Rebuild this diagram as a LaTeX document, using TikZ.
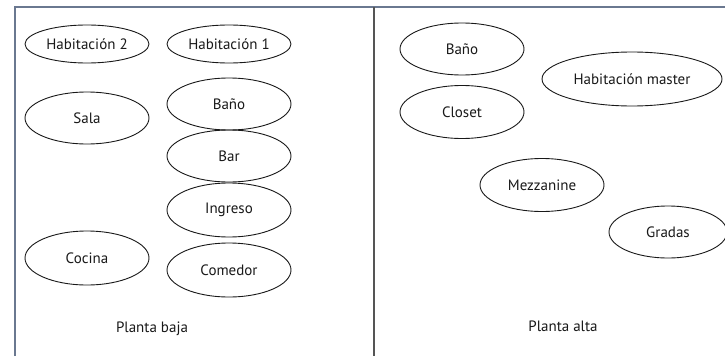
\documentclass[tikz,border=0pt]{standalone}
\usepackage{fontspec}
\setmainfont{PT Sans}
\usetikzlibrary{shapes.geometric}
\definecolor{framecol}{HTML}{6A7890}
\definecolor{divcol}{HTML}{555555}
\begin{document}
\begin{tikzpicture}[x=1pt,y=-1pt,
  room/.style={draw=black!90,line width=0.9pt,ellipse,inner sep=0pt,font=\fontsize{15}{17}\selectfont,text=black!90},
  caption/.style={font=\fontsize{15}{17}\selectfont,text=black!90}]
\useasboundingbox (0,0) rectangle (725,356);
\fill[white] (0,0) rectangle (725,356);
% frame
\draw[framecol,line width=1.5pt] (15,356) -- (15,7) -- (725,7);
\draw[divcol,line width=1.3pt] (374,7) -- (374,356);
% Planta baja
\node[room,minimum width=124pt,minimum height=38pt] (hab2) at (87,44) {Habitación 2};
\node[room,minimum width=124pt,minimum height=38pt] (hab1) at (229,44) {Habitación 1};
\node[room,minimum width=124pt,minimum height=52pt] (sala) at (87,118) {Sala};
\node[room,minimum width=124pt,minimum height=52pt] (bano1) at (229,104) {Baño};
\node[room,minimum width=124pt,minimum height=52pt] (bar) at (229,156) {Bar};
\node[room,minimum width=124pt,minimum height=54pt] (ingreso) at (229,210) {Ingreso};
\node[room,minimum width=124pt,minimum height=54pt] (cocina) at (87,258) {Cocina};
\node[room,minimum width=124pt,minimum height=54pt] (comedor) at (229,270) {Comedor};
\node[caption] (baja) at (152,329) {Planta baja};
% Planta alta
\node[room,minimum width=124pt,minimum height=52pt] (bano2) at (462,49) {Baño};
\node[room,minimum width=180pt,minimum height=54pt] (master) at (632,79) {Habitación master};
\node[room,minimum width=124pt,minimum height=53pt] (closet) at (462,112) {Closet};
\node[room,minimum width=124pt,minimum height=53pt] (mezz) at (542,185) {Mezzanine};
\node[room,minimum width=118pt,minimum height=52pt] (gradas) at (668,232) {Gradas};
\node[caption] (alta) at (563,326) {Planta alta};
\end{tikzpicture}
\end{document}
